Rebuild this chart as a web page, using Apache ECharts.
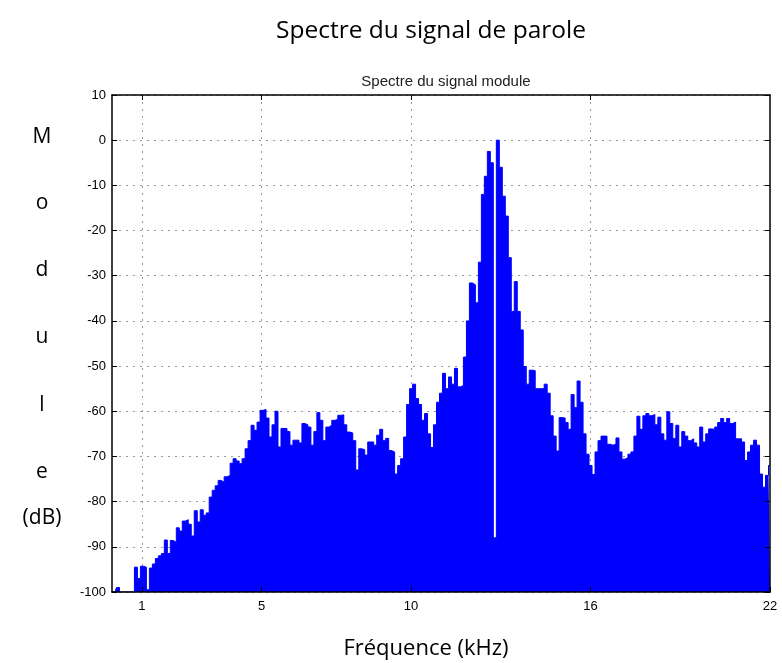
<!DOCTYPE html>
<html><head><meta charset="utf-8">
<script src="https://cdn.jsdelivr.net/npm/echarts@6/dist/echarts.min.js"></script>
<style>html,body{margin:0;padding:0;background:#fff}#c{width:782px;height:663px}</style>
</head><body><div id="c"></div>
<script>
const freqStepKHz = 0.1;
const moduleDb = [
  -100,-100,-99,-100,-100,-100,-100,-100,-94.5,-97,
  -94.3,-94.5,-99.5,-94.7,-93.8,-92.6,-92,-91.5,-88.5,-91.5,
  -88.6,-89,-85.8,-86.5,-84.3,-84,-85,-87.6,-82,-84.5,
  -81.8,-83,-82.5,-79,-77.5,-76.5,-75.3,-75.7,-74.5,-74.2,
  -71.5,-70.5,-71,-71.6,-70.5,-68.3,-66.5,-63.1,-64.2,-62.4,
  -59.8,-59.6,-61.5,-65.7,-63,-60,-67.9,-63.8,-63.8,-64.5,
  -67.5,-66.4,-66.4,-67,-62.7,-63,-63.5,-67.5,-64.5,-60.3,
  -62,-66.5,-63.5,-63.1,-62,-61.8,-60.9,-60.8,-63,-64.6,
  -64.8,-66.5,-73,-68.3,-68.5,-69.7,-66.8,-66.8,-67.5,-65.3,
  -64,-66.5,-66,-68.7,-69,-73.9,-72,-70.5,-65.7,-58.5,
  -55,-54,-57.2,-58.5,-62,-60.5,-65,-68,-63,-58,
  -56,-51.6,-55,-52.4,-54,-50.5,-54.6,-54.3,-48,-40,
  -31.6,-32,-36,-27,-12,-8,-2.5,-5,-88,0,
  -6,-12.4,-16.8,-26,-37.9,-31.3,-37.9,-42,-50.1,-54,
  -50.9,-51,-55,-55,-55,-54,-56,-61,-65.5,-68.8,
  -61.4,-61.5,-62.5,-64,-56.3,-59.2,-53.3,-58,-65,-69.5,
  -72,-74,-69,-66.5,-65.5,-65.5,-67.3,-67.5,-67.3,-65.9,
  -69,-70.6,-70.3,-69.5,-69,-65.5,-61.1,-64,-61,-60.5,
  -61,-60.7,-63,-61.3,-65,-66.4,-60.1,-62.7,-66,-63.1,
  -67.9,-64.5,-65.5,-66.5,-66.1,-67,-67.9,-63.5,-66.8,-65,
  -63.9,-64,-63.5,-62.5,-61.6,-62.5,-61.6,-62.7,-62.4,-66.1,
  -66.1,-66.8,-70.9,-69,-67.5,-66.4,-67.5,-73.9,-76.8,-74.2,
  -72
];
const xTickValues = [1, 5, 10, 16, 22];
const xMin = 0, xMax = 22;
const yMin = -100, yMax = 10, yStep = 10;
const mainTitle = 'Spectre du signal de parole';
const innerTitle = 'Spectre du signal module';
const xName = 'Fréquence (kHz)';
const yNameParts = ['M', 'o', 'd', 'u', 'l', 'e', '(dB)'];
const yNameTops = [137, 203, 270, 337, 405, 472, 518];

const points = moduleDb.map((v, i) => [Number((i * freqStepKHz).toFixed(2)), v]);

const chart = echarts.init(document.getElementById('c'), null, {renderer: 'canvas'});
const labelFont = {fontFamily: 'Liberation Sans, Arial, sans-serif', fontSize: 13, color: '#000'};
const gridDot = {color: '#9a9a9a', width: 1, type: [2, 5]};
const frameLine = {show: true, onZero: false, lineStyle: {color: '#000', width: 1.5}};

chart.setOption({
  animation: false,
  backgroundColor: '#fff',
  title: [
    {text: mainTitle, left: 426, top: 14, textAlign: 'center',
     textStyle: {fontFamily: 'Open Sans, sans-serif', fontSize: 24.5, fontWeight: 'normal', color: '#000'}},
    {text: innerTitle, left: 441, top: 69, textAlign: 'center',
     textStyle: {fontFamily: 'Liberation Sans, Arial, sans-serif', fontSize: 15, fontWeight: 'normal', color: '#222'}},
    {text: xName, left: 421, top: 633, textAlign: 'center',
     textStyle: {fontFamily: 'Open Sans, sans-serif', fontSize: 22, fontWeight: 'normal', color: '#000'}}
  ],
  graphic: yNameParts.map((t, i) => ({
    type: 'text', x: 42, y: yNameTops[i],
    style: {text: t, fill: '#000', font: '21px "Open Sans", sans-serif', textAlign: 'center', textVerticalAlign: 'middle'}
  })),
  grid: {left: 112, right: 12, top: 95, bottom: 71, containLabel: false},
  xAxis: [
    {type: 'value', position: 'bottom', min: xMin, max: xMax, z: 10,
     axisLine: frameLine,
     axisTick: {show: true, inside: true, length: 5, customValues: xTickValues, lineStyle: {color: '#000'}},
     axisLabel: Object.assign({show: true, margin: 8, customValues: xTickValues}, labelFont),
     splitLine: {show: false}},
    {type: 'value', position: 'top', min: xMin, max: xMax, z: 10,
     axisLine: frameLine,
     axisTick: {show: true, inside: true, length: 5, customValues: xTickValues.slice(0, 4), lineStyle: {color: '#000'}},
     axisLabel: {show: false}, splitLine: {show: false}},
    {type: 'value', min: xMin, max: xMax, z: 0,
     axisLine: {show: false, onZero: false},
     axisTick: {show: false, customValues: xTickValues.slice(0, 4)},
     axisLabel: {show: false, customValues: xTickValues.slice(0, 4)},
     splitLine: {show: true, lineStyle: gridDot}}
  ],
  yAxis: [
    {type: 'value', position: 'left', min: yMin, max: yMax, interval: yStep, z: 10,
     axisLine: frameLine,
     axisTick: {show: true, inside: true, length: 5, lineStyle: {color: '#000'}},
     axisLabel: Object.assign({show: true, margin: 6}, labelFont),
     splitLine: {show: false}},
    {type: 'value', position: 'right', min: yMin, max: yMax, interval: yStep, z: 10,
     axisLine: frameLine,
     axisTick: {show: true, inside: true, length: 5, lineStyle: {color: '#000'}},
     axisLabel: {show: false}, splitLine: {show: false}},
    {type: 'value', min: yMin, max: yMax, interval: yStep, z: 0,
     axisLine: {show: false, onZero: false}, axisTick: {show: false}, axisLabel: {show: false},
     splitLine: {show: true, lineStyle: gridDot}}
  ],
  series: [{
    type: 'line', xAxisIndex: 0, yAxisIndex: 0, step: 'middle', z: 3,
    showSymbol: false, silent: true,
    lineStyle: {color: '#0000ff', width: 1},
    areaStyle: {color: '#0000ff', opacity: 1, origin: 'start'},
    data: points
  }]
});
</script></body></html>
